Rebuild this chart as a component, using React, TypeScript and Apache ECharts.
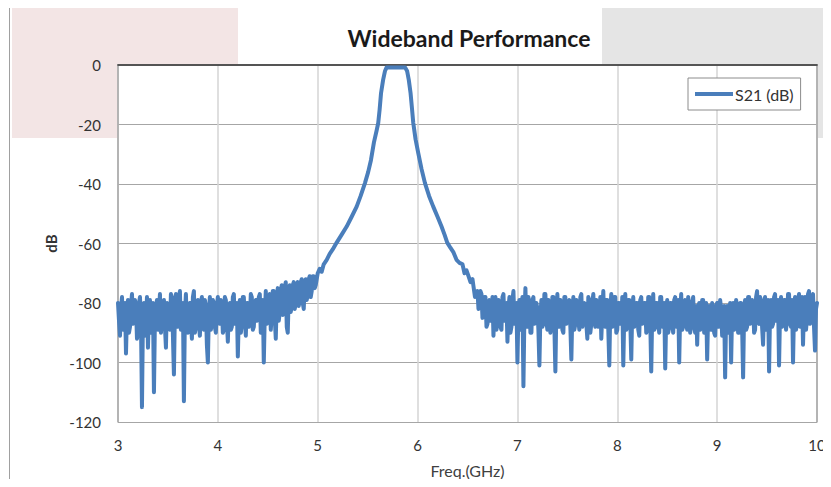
import React, { useEffect, useRef } from "react";
import * as echarts from "echarts";

// ---- data ----
const NOISE_STEP = 0.01;
const LEFT_START = 3.0;
// S21 (dB) from 3.00 to 4.99 GHz, every 0.01 GHz
const leftNoise = [
  -80, -86, -91, -82, -78, -89, -85, -80, -97, -83, -79, -90, -88, -81, -77, -87, -86, -79, -81, -92,
  -90, -80, -78, -86, -115, -84, -80, -91, -87, -78, -95, -82, -79, -90, -88, -80, -110, -85, -82, -79,
  -89, -83, -77, -90, -86, -81, -79, -88, -95, -80, -81, -87, -89, -77, -78, -91, -104, -82, -77, -86,
  -88, -79, -76, -89, -87, -80, -113, -84, -77, -88, -90, -81, -80, -86, -92, -78, -76, -90, -88, -82,
  -79, -87, -91, -80, -78, -86, -89, -79, -81, -94, -100, -83, -78, -89, -86, -79, -80, -88, -90, -81,
  -78, -85, -87, -79, -81, -90, -89, -78, -79, -86, -93, -82, -80, -89, -88, -78, -77, -87, -86, -80,
  -98, -84, -79, -90, -87, -78, -78, -86, -91, -80, -80, -88, -86, -77, -78, -89, -88, -81, -79, -86,
  -85, -78, -77, -90, -88, -79, -100, -84, -76, -87, -86, -78, -77, -89, -84, -76, -76, -85, -92, -79,
  -75, -86, -83, -76, -74, -84, -82, -75, -73, -88, -90, -77, -74, -83, -81, -74, -73, -82, -80, -74,
  -73, -81, -79, -73, -72, -80, -82, -74, -72, -79, -77, -72, -71, -78, -76, -71, -71, -75, -74, -72,
];
// passband and skirts: [GHz, dB]
const skirtFreq = [
  5.0, 5.02, 5.04, 5.06, 5.09, 5.12, 5.15, 5.19, 5.24, 5.29, 5.34, 5.39, 5.43, 5.473,
  5.505, 5.533, 5.563, 5.59, 5.606, 5.62, 5.634, 5.655, 5.674, 5.69, 5.72, 5.85, 5.875,
  5.895, 5.912, 5.93, 5.945, 5.957, 5.98, 6.007, 6.04, 6.074, 6.115, 6.157, 6.2, 6.24,
  6.27, 6.297, 6.33, 6.36, 6.39, 6.42, 6.45, 6.47, 6.49, 6.51, 6.53, 6.55, 6.575,
];
const skirtDb = [
  -70, -68.5, -69.5, -67, -65.5, -63.5, -62, -59.7, -57, -54.3, -51, -47.6, -44, -39.7,
  -36, -32, -26, -22, -19.5, -15, -9.5, -5, -2, -0.8, -0.8, -0.8, -0.8,
  -2, -5, -9.5, -15, -19.5, -25, -29.6, -35, -39.7, -44, -47.6, -51, -54.3,
  -57, -59.7, -61.5, -63, -65.5, -66.5, -67, -70, -69, -71, -73, -72, -78,
];
const RIGHT_START = 6.6;
// S21 (dB) from 6.60 to 10.00 GHz, every 0.01 GHz
const rightNoise = [
  -76, -82, -80, -76, -77, -85, -84, -78, -78, -88, -87, -80, -79, -86, -85, -78, -91, -82, -78, -89,
  -86, -79, -80, -88, -89, -78, -77, -86, -86, -80, -93, -82, -78, -90, -88, -79, -76, -87, -85, -80,
  -100, -83, -79, -89, -86, -78, -108, -84, -75, -87, -88, -78, -80, -90, -90, -79, -78, -87, -86, -80,
  -82, -89, -101, -84, -79, -88, -87, -77, -77, -86, -89, -79, -80, -90, -86, -78, -78, -88, -103, -82,
  -77, -86, -88, -79, -80, -89, -90, -78, -78, -87, -86, -80, -79, -88, -99, -83, -78, -89, -87, -79,
  -80, -86, -89, -78, -77, -88, -86, -80, -81, -87, -92, -78, -79, -90, -87, -80, -77, -86, -88, -79,
  -80, -88, -85, -78, -92, -83, -76, -87, -88, -79, -79, -89, -101, -82, -77, -88, -86, -78, -78, -90,
  -89, -80, -80, -87, -87, -78, -101, -84, -77, -89, -88, -79, -79, -86, -99, -82, -78, -88, -87, -80,
  -80, -89, -91, -79, -78, -87, -86, -80, -80, -90, -89, -78, -78, -86, -103, -83, -77, -89, -88, -80,
  -80, -87, -90, -78, -78, -88, -86, -80, -102, -84, -79, -90, -88, -80, -80, -87, -90, -79, -78, -88,
  -86, -79, -100, -83, -77, -89, -88, -80, -79, -86, -89, -78, -81, -90, -87, -80, -78, -88, -90, -81,
  -94, -82, -80, -89, -88, -79, -79, -90, -86, -80, -99, -84, -81, -88, -89, -80, -82, -90, -91, -81,
  -80, -88, -88, -79, -82, -91, -90, -81, -105, -84, -81, -90, -89, -80, -100, -83, -80, -89, -88, -79,
  -82, -90, -90, -80, -80, -88, -105, -83, -79, -89, -88, -78, -78, -87, -86, -79, -80, -90, -89, -78,
  -76, -86, -87, -78, -79, -88, -94, -81, -78, -89, -88, -79, -103, -83, -79, -88, -87, -78, -77, -86,
  -86, -79, -101, -83, -78, -88, -87, -79, -79, -89, -85, -77, -77, -87, -88, -79, -100, -82, -78, -89,
  -86, -79, -77, -88, -88, -78, -94, -81, -78, -89, -85, -77, -76, -87, -86, -78, -77, -88, -96, -82,
  -80,
];
const yTicks = { min: -120, max: 0, interval: 20 };
const xTicks = { min: 3, max: 10, interval: 1 };

const SERIES_NAME = "S21 (dB)";
const FONT = "Lato, 'Noto Sans', sans-serif";

export default function App() {
  const ref = useRef<HTMLDivElement>(null);
  useEffect(() => {
    if (!ref.current) return;
    const chart = echarts.init(ref.current, undefined, { renderer: "svg" });
    const data: [number, number][] = [];
    leftNoise.forEach((v, i) => data.push([+(LEFT_START + i * NOISE_STEP).toFixed(3), v]));
    skirtFreq.forEach((f, i) => data.push([f, skirtDb[i]]));
    rightNoise.forEach((v, i) => data.push([+(RIGHT_START + i * NOISE_STEP).toFixed(3), v]));

    chart.setOption({
      animation: false,
      backgroundColor: "#fff",
      textStyle: { fontFamily: FONT },
      graphic: [
        { type: "rect", z: -10, shape: { x: 12, y: 0, width: 226, height: 138 }, style: { fill: "#f3e5e5" } },
        { type: "rect", z: -10, shape: { x: 602, y: 0, width: 229, height: 138 }, style: { fill: "#e5e5e5" } },
        { type: "line", z: -5, shape: { x1: 9, y1: 7.5, x2: 831, y2: 7.5 }, style: { stroke: "#a0a0a0", lineWidth: 1 } },
        { type: "line", z: -5, shape: { x1: 9.5, y1: 7, x2: 9.5, y2: 487 }, style: { stroke: "#a0a0a0", lineWidth: 1 } },
      ],
      title: {
        text: "Wideband Performance",
        left: 464,
        textAlign: "center",
        top: 21,
        textStyle: { fontFamily: FONT, fontWeight: "bold", fontSize: 23, color: "#1a1a1a" },
      },
      legend: {
        data: [SERIES_NAME],
        left: 688,
        top: 78,
        backgroundColor: "#fff",
        borderColor: "#8c8c8c",
        borderWidth: 1,
        borderRadius: 0,
        padding: [8, 7, 8, 7],
        icon: "rect",
        itemWidth: 38,
        itemHeight: 4,
        itemGap: 2,
        textStyle: { fontFamily: FONT, fontSize: 16, color: "#333", padding: [0, 0, 0, -3] },
      },
      grid: {
        left: 118,
        right: 14,
        top: 65,
        bottom: 65,
        show: true,
        backgroundColor: "#fff",
        borderWidth: 0,
      },
      xAxis: [
        {
          type: "value",
          min: xTicks.min,
          max: xTicks.max,
          interval: xTicks.interval,
          name: "Freq.(GHz)",
          nameLocation: "middle",
          nameGap: 40,
          nameTextStyle: { fontFamily: FONT, fontSize: 16, color: "#404040" },
          axisLine: { show: true, lineStyle: { color: "#a6a6a6", width: 2 } },
          axisTick: { show: false },
          axisLabel: { fontFamily: FONT, fontSize: 15, color: "#333", margin: 15 },
          splitLine: { show: true, lineStyle: { color: "#d4d4d4", width: 1.5 } },
        },
        {
          type: "value",
          position: "top",
          min: xTicks.min,
          max: xTicks.max,
          axisLine: { show: true, lineStyle: { color: "#3a3a3a", width: 1.5 } },
          axisTick: { show: false },
          axisLabel: { show: false },
          splitLine: { show: false },
        },
      ],
      yAxis: [
        {
          type: "value",
          min: yTicks.min,
          max: yTicks.max,
          interval: yTicks.interval,
          name: "dB",
          nameLocation: "middle",
          nameGap: 58,
          nameRotate: 90,
          nameTextStyle: { fontFamily: FONT, fontSize: 15, fontWeight: "bold", color: "#333" },
          axisLine: { show: true, lineStyle: { color: "#a6a6a6", width: 1.5 } },
          axisTick: { show: false },
          axisLabel: { fontFamily: FONT, fontSize: 15, color: "#333", margin: 17 },
          splitLine: { show: true, lineStyle: { color: "#a6a6a6", width: 1.2 } },
        },
        {
          type: "value",
          position: "right",
          min: yTicks.min,
          max: yTicks.max,
          axisLine: { show: true, lineStyle: { color: "#a6a6a6", width: 1.5 } },
          axisTick: { show: false },
          axisLabel: { show: false },
          splitLine: { show: false },
        },
      ],
      series: [
        {
          name: SERIES_NAME,
          type: "line",
          data,
          showSymbol: false,
          symbol: "none",
          clip: true,
          lineStyle: { color: "#4a7ebb", width: 4, join: "round", cap: "round" },
          itemStyle: { color: "#4a7ebb" },
        },
      ],
    });
    return () => chart.dispose();
  }, []);
  return <div ref={ref} style={{ width: 831, height: 487, margin: -8 }} />;
}
